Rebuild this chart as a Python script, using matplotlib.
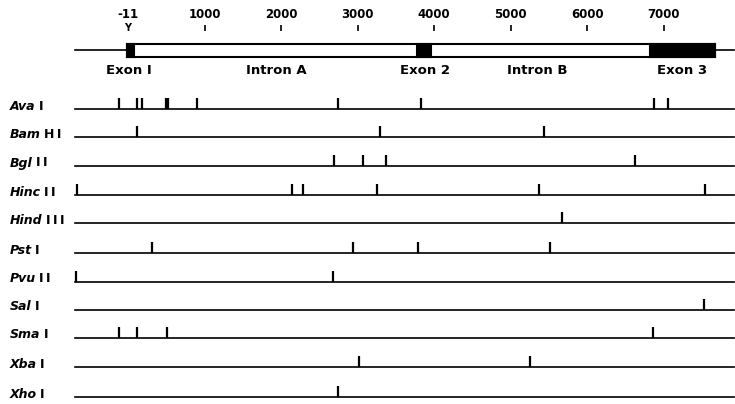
import matplotlib
matplotlib.use("Agg")
import matplotlib.pyplot as plt
from matplotlib.patches import Rectangle
from matplotlib.transforms import offset_copy

plt.rcParams['font.family'] = ['DejaVu Sans']

# ---- data ----
scale_ticks = [1000, 2000, 3000, 4000, 5000, 6000, 7000]
cap_site = -11
gene_start, gene_end = -20, 7673
exons = [("Exon I", -20, 78), ("Exon 2", 3775, 3958), ("Exon 3", 6823, 7673)]
intron_labels = [("Intron A", 1930), ("Intron B", 5345)]
exon_label_pos = [0, 3880, 7243]

enzyme_italic = ["Ava", "Bam", "Bgl", "Hinc", "Hind", "Pst", "Pvu", "Sal", "Sma", "Xba", "Xho"]
enzyme_roman = ["I", "HI", "II", "II", "III", "I", "II", "I", "I", "I", "I"]
sites = [
    [-120, 107, 173, 490, 520, 900, 2745, 3827, 6880, 7055],
    [107, 3290, 5441],
    [2693, 3073, 3365, 6627],
    [-670, 2143, 2279, 3247, 5371, 7543],
    [5676],
    [303, 2933, 3792, 5515],
    [-687, 2680],
    [7534],
    [-120, 107, 500, 6867],
    [3020, 5253],
    [2745],
]
row_y = [109, 137, 166, 195, 223, 253, 282, 310, 338, 367, 397]
line_start, line_end = -700, 7925

# ---- figure ----
fig = plt.figure(figsize=(7.35, 4.04), dpi=100)
ax = fig.add_axes([0, 0, 1, 1])
ax.set_xlim(-1681, 7935)
ax.set_ylim(404, 0)
ax.axis('off')

# scale
for t in scale_ticks:
    ax.text(t, 15, str(t), ha='center', va='center', fontsize=8.5, fontweight='bold')
    ax.plot([t, t], [25, 31], color='black', lw=1.2, solid_capstyle='butt')
ax.text(cap_site, 14, "-11", ha='center', va='center', fontsize=8.5, fontweight='bold')
ax.text(cap_site, 28, "Y", ha='center', va='center', fontsize=7, fontweight='bold')

# gene line and box
ax.plot([line_start, line_end], [50, 50], color='black', lw=1.2, zorder=1)
ax.add_patch(Rectangle((gene_start, 43.5), gene_end - gene_start, 13.5,
                       facecolor='white', edgecolor='black', lw=1.5, zorder=2))
for (name, s, e), lx in zip(exons, exon_label_pos):
    ax.add_patch(Rectangle((s, 43.5), e - s, 13.5, facecolor='black',
                           edgecolor='black', lw=1.5, zorder=3))
    ax.text(lx, 71, name, ha='center', va='center', fontsize=9.5, fontweight='bold')
for name, x in intron_labels:
    ax.text(x, 71, name, ha='center', va='center', fontsize=9.5, fontweight='bold')

# enzyme rows
ytr = ax.get_yaxis_transform()
renderer = fig.canvas.get_renderer()
for it, rm, s, y in zip(enzyme_italic, enzyme_roman, sites, row_y):
    t1 = ax.text(0.013, y - 3, it, transform=ytr, ha='left', va='center',
                 fontsize=9, fontweight='bold', style='italic')
    w = t1.get_window_extent(renderer=renderer).width * 72.0 / fig.dpi
    tr2 = offset_copy(ytr, fig=fig, x=w + 2.5, y=0, units='points')
    ax.text(0.013, y - 3, "\u2009".join(rm), transform=tr2, ha='left', va='center',
            fontsize=9, fontweight='bold')
    ax.plot([line_start, line_end], [y, y], color='black', lw=1.2)
    for p in s:
        ax.plot([p, p], [y, y - 11], color='black', lw=1.6, solid_capstyle='butt')

fig.savefig("out.png", dpi=100, facecolor='white')
